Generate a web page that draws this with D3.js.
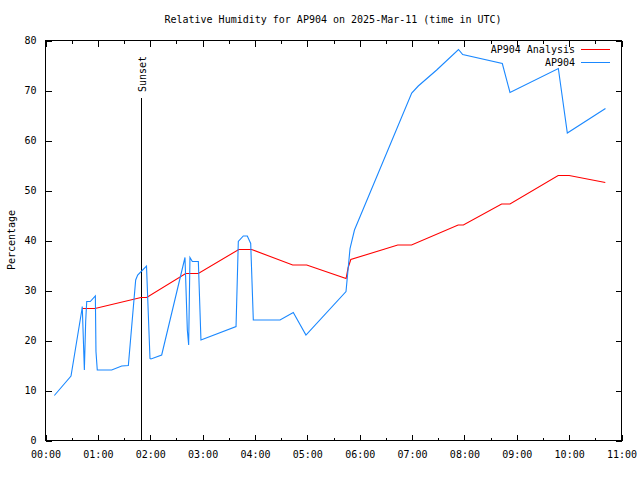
<!DOCTYPE html>
<html>
<head>
<meta charset="utf-8">
<script src="https://cdn.jsdelivr.net/npm/d3@7/dist/d3.min.js"></script>
<style>
  html, body { margin: 0; padding: 0; background: #fff; }
  svg { display: block; }
  text { font-family: "DejaVu Sans Mono", monospace; font-size: 10px; fill: #000; }
</style>
</head>
<body>
<script>
// ---- Data (time in minutes after 00:00 UTC, value in %) ----
const analysisTimes = [42.7, 57.3, 110, 116.5, 161.2, 175.7, 222, 236.8, 283.8, 299.9, 345, 347.4, 350.4, 404.2, 420, 473.4, 479.4, 523.2, 532.8, 588, 600.6, 642];
const analysisValues = [26.3, 26.3, 28.5, 28.5, 33.3, 33.3, 38.1, 38.1, 35, 35, 32.3, 34.5, 36.1, 39, 39, 43, 43, 47.2, 47.2, 52.9, 52.9, 51.5];

const obsTimes = [10.7, 29.8, 42.1, 42.7, 45.1, 46.6, 47.8, 51.9, 57.7, 58.4, 59.9, 76.4, 87.9, 95.5, 103.9, 106.2, 116.3, 120.3, 121.4, 133.7, 160.4, 163.1, 164.6, 166.1, 168.8, 175.7, 178.7, 218.9, 221.5, 227.2, 231.8, 235.7, 238.7, 269.3, 284.5, 299, 344.9, 349.5, 354.6, 420.2, 427.7, 448.8, 473.8, 478.6, 524, 532.8, 588.2, 598.5, 642.2];
const obsValues = [8.9, 12.8, 25.9, 26.7, 14, 23.7, 27.7, 27.7, 28.8, 17.7, 14, 14, 14.8, 14.9, 32, 33, 34.8, 16.3, 16.2, 17, 36.5, 22, 19, 36.5, 35.7, 35.7, 20, 22.7, 39.7, 40.8, 40.8, 39.3, 24, 24, 25.5, 21, 29.7, 38.3, 42, 69.4, 70.8, 74, 78.1, 77.1, 75.3, 69.5, 74.3, 61.4, 66.3];

const xTickLabels = ["00:00","01:00","02:00","03:00","04:00","05:00","06:00","07:00","08:00","09:00","10:00","11:00"];
const yTicks = [0, 10, 20, 30, 40, 50, 60, 70, 80];
const sunsetTime = 110; // 01:50
const sunsetTop = 68.4;
const seriesNames = ["AP904 Analysis", "AP904"];
const seriesColors = ["#ff0000", "#1a88ff"];
const titleText = "Relative Humidity for AP904 on 2025-Mar-11 (time in UTC)";
const yLabel = "Percentage";

// ---- Layout ----
const W = 640, H = 480;
const mLeft = 45, mRight = 621, mTop = 40, mBottom = 440;

const svg = d3.select("body").append("svg").attr("width", W).attr("height", H);

const x = d3.scaleLinear().domain([0, 660]).range([mLeft, mRight]);
const y = d3.scaleLinear().domain([0, 80]).range([mBottom, mTop]);

// Frame
svg.append("rect")
  .attr("x", mLeft + 0.5).attr("y", mTop + 0.5)
  .attr("width", mRight - mLeft).attr("height", mBottom - mTop)
  .attr("fill", "none").attr("stroke", "#000").attr("stroke-width", 1)
  .attr("shape-rendering", "crispEdges");

const majorX = d3.range(0, 661, 60);
const minorX = d3.range(30, 660, 60);

function clean(g) {
  g.select(".domain").remove();
  g.selectAll("line").attr("shape-rendering", "crispEdges");
  g.selectAll("text").attr("font-family", "DejaVu Sans Mono").attr("font-size", 10).attr("fill", "#000");
}

// Bottom axis (ticks inward)
svg.append("g").attr("transform", `translate(0.5,${mBottom + 0.5})`)
  .call(d3.axisBottom(x).tickValues(majorX).tickSize(-6)
    .tickFormat((d, i) => xTickLabels[i]).tickPadding(10)).call(clean);
svg.append("g").attr("transform", `translate(0.5,${mBottom + 0.5})`)
  .call(d3.axisBottom(x).tickValues(minorX).tickSize(-3).tickFormat("")).call(clean);

// Top axis
svg.append("g").attr("transform", `translate(0.5,${mTop + 0.5})`)
  .call(d3.axisTop(x).tickValues(majorX).tickSize(-6).tickFormat("")).call(clean);
svg.append("g").attr("transform", `translate(0.5,${mTop + 0.5})`)
  .call(d3.axisTop(x).tickValues(minorX).tickSize(-3).tickFormat("")).call(clean);

// Left axis
svg.append("g").attr("transform", `translate(${mLeft + 0.5},0.5)`)
  .call(d3.axisLeft(y).tickValues(yTicks).tickSize(-6).tickPadding(9).tickFormat(d3.format("d"))).call(clean);

// Right axis
svg.append("g").attr("transform", `translate(${mRight + 0.5},0.5)`)
  .call(d3.axisRight(y).tickValues(yTicks).tickSize(-6).tickFormat("")).call(clean);

// Sunset line
const sx = Math.round(x(sunsetTime)) + 0.5;
svg.append("line")
  .attr("x1", sx).attr("x2", sx)
  .attr("y1", y(0)).attr("y2", y(sunsetTop))
  .attr("stroke", "#000").attr("stroke-width", 1).attr("shape-rendering", "crispEdges");
svg.append("text")
  .attr("transform", `translate(${x(sunsetTime) + 5},${y(sunsetTop) - 6}) rotate(-90)`)
  .attr("text-anchor", "start")
  .text("Sunset");

// Lines
const line = d3.line().x(d => x(d[0])).y(d => y(d[1]));
const analysisData = analysisTimes.map((t, i) => [t, analysisValues[i]]);
const obsData = obsTimes.map((t, i) => [t, obsValues[i]]);

svg.append("path").datum(analysisData)
  .attr("d", line).attr("fill", "none")
  .attr("stroke", seriesColors[0]).attr("stroke-width", 1.1);
svg.append("path").datum(obsData)
  .attr("d", line).attr("fill", "none")
  .attr("stroke", seriesColors[1]).attr("stroke-width", 1.1);

// Title
svg.append("text").attr("x", 333).attr("y", 23).attr("text-anchor", "middle").text(titleText);

// Y label
svg.append("text")
  .attr("transform", `translate(15,240) rotate(-90)`)
  .attr("text-anchor", "middle").text(yLabel);

// Legend
const legendY = [49.5, 62.5];
seriesNames.forEach((name, i) => {
  svg.append("text").attr("x", 575).attr("y", legendY[i] + 3.5)
    .attr("text-anchor", "end").text(name);
  svg.append("line")
    .attr("x1", 581).attr("x2", 610)
    .attr("y1", legendY[i]).attr("y2", legendY[i])
    .attr("stroke", seriesColors[i]).attr("stroke-width", 1)
    .attr("shape-rendering", "crispEdges");
});
</script>
</body>
</html>
